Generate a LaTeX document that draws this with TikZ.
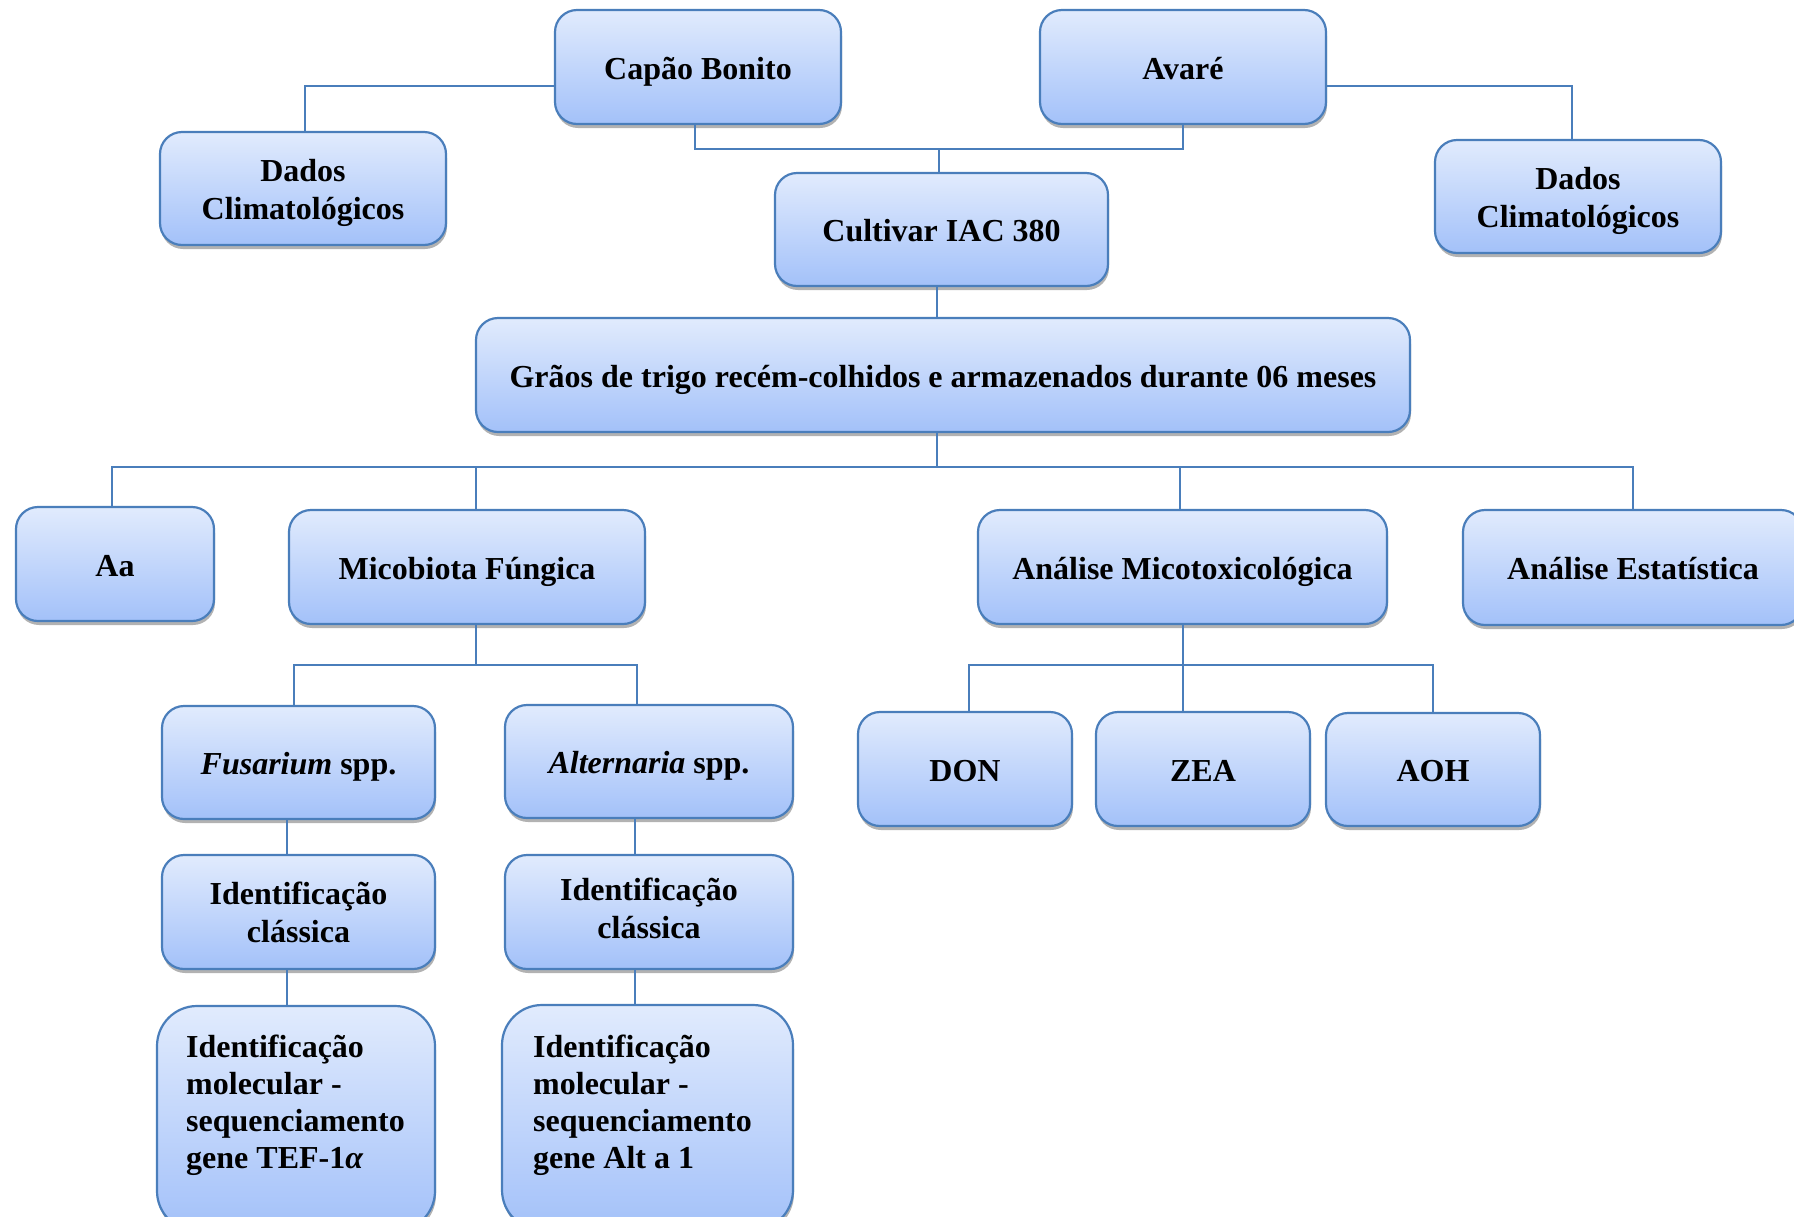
\documentclass[tikz,border=0pt]{standalone}
\usepackage{fontspec}
\setmainfont{Liberation Serif}
\usetikzlibrary{shadows}
\definecolor{bord}{HTML}{4A7EBB}
\definecolor{topc}{HTML}{E1EBFD}
\definecolor{botc}{HTML}{A3C1F9}
\begin{document}
\begin{tikzpicture}[x=1pt,y=-1pt,
  box/.style={draw=bord, line width=2.2pt, rounded corners=22pt, top color=topc, bottom color=botc,
    minimum height=114pt, inner sep=0pt, align=center,
    font=\fontsize{32}{38}\selectfont\bfseries,
    drop shadow={shadow xshift=1pt, shadow yshift=-4pt, opacity=0.3, fill=black}},
  one/.style={text height=30pt, text depth=6pt},
  bigbox/.style={box, rounded corners=40pt},
  molt/.style={font=\fontsize{32}{37}\selectfont\bfseries, align=left, anchor=north west, inner sep=0pt},
  conn/.style={draw=bord, line width=2pt}]
\useasboundingbox (0,0) rectangle (1794,1216);
% boxes
\node[box, one, minimum width=286pt] (capao) at (698,67) {Capão Bonito};
\node[box, one, minimum width=286pt] (avare) at (1183,67) {Avaré};
\node[box, minimum width=286pt, minimum height=113pt] (dadosL) at (303,188.5) {\rule{0pt}{32pt}Dados\\Climatológicos};
\node[box, minimum width=286pt, minimum height=113pt] (dadosR) at (1578,196.5) {\rule{0pt}{32pt}Dados\\Climatológicos};
\node[box, one, minimum width=333pt, minimum height=113pt] (cultivar) at (941.5,229.5) {Cultivar IAC 380};
\node[box, one, minimum width=934pt] (graos) at (943,375) {Grãos de trigo recém-colhidos e armazenados durante 06 meses};
\node[box, one, minimum width=198pt] (aa) at (115,564) {Aa};
\node[box, one, minimum width=356pt] (mico) at (467,567) {Micobiota Fúngica};
\node[box, one, minimum width=409pt] (analise) at (1182.5,567) {Análise Micotoxicológica};
\node[box, one, minimum width=340pt, minimum height=115pt] (estat) at (1633,567.5) {Análise Estatística};
\node[box, one, minimum width=273pt, minimum height=113pt] (fus) at (298.5,762.5) {\textit{Fusarium} spp.};
\node[box, one, minimum width=288pt, minimum height=113pt] (alt) at (649,761.5) {\textit{Alternaria} spp.};
\node[box, minimum width=273pt] (identL) at (298.5,912) {Identificação\\clássica};
\node[box, minimum width=288pt] (identR) at (649,912) {Identificação\\clássica\rule[-7pt]{0pt}{0pt}};
\node[bigbox, minimum width=278pt, minimum height=225pt] (molL) at (296,1118.5) {};
\node[bigbox, minimum width=291pt, minimum height=225pt] (molR) at (647.5,1117.5) {};
\node[molt] (molLt) at (186,1034.5) {Identificação\\molecular -\\sequenciamento\\gene TEF-1\textit{α}};
\node[molt] (molRt) at (533,1034.5) {Identificação\\molecular -\\sequenciamento\\gene Alt a 1};
\node[box, one, minimum width=214pt] (don) at (965,769) {DON};
\node[box, one, minimum width=214pt] (zea) at (1203,769) {ZEA};
\node[box, one, minimum width=214pt, minimum height=113pt] (aoh) at (1433,769.5) {AOH};
% connectors
\coordinate (dl) at ([xshift=2pt]dadosL.north);
\draw[conn] ([yshift=-19pt]capao.west) -| (dl);
\draw[conn] ([yshift=-19pt]avare.east) -| ([xshift=-6pt]dadosR.north);
\coordinate (j1) at (939,149);
\coordinate (cs) at ([xshift=-3pt]capao.south);
\draw[conn] (cs) |- (j1) -| (avare.south);
\draw[conn] (j1) -- (j1 |- cultivar.north);
\coordinate (cb) at ([xshift=-4.5pt]cultivar.south);
\draw[conn] (cb) -- (cb |- graos.north);
\coordinate (j2) at (0,467);
\coordinate (ab) at ([xshift=-3pt]aa.north);
\draw[conn] (ab) -- (ab |- j2) -- (estat.north |- j2) -- (estat.north);
\draw[conn] (cb |- graos.south) -- (cb |- j2);
\coordinate (mt) at ([xshift=9pt]mico.north);
\draw[conn] (mt) -- (mt |- j2);
\coordinate (ant) at ([xshift=-3pt]analise.north);
\draw[conn] (ant) -- (ant |- j2);
\coordinate (j3) at (0,665);
\coordinate (mb) at ([xshift=9pt]mico.south);
\draw[conn] (mb) -- (mb |- j3);
\coordinate (ft) at ([xshift=-4.5pt]fus.north);
\coordinate (at) at ([xshift=-12pt]alt.north);
\draw[conn] (ft) -- (ft |- j3) -- (at |- j3) -- (at);
\coordinate (fb) at ([xshift=-11.5pt]fus.south);
\draw[conn] (fb) -- (fb |- identL.north);
\draw[conn] (fb |- identL.south) -- (fb |- molL.north);
\coordinate (ab2) at ([xshift=-14pt]alt.south);
\draw[conn] (ab2) -- (ab2 |- identR.north);
\draw[conn] (ab2 |- identR.south) -- (ab2 |- molR.north);
\coordinate (anb) at (analise.south);
\draw[conn] (anb) -- (anb |- zea.north);
\coordinate (dt) at ([xshift=4pt]don.north);
\draw[conn] (dt) -- (dt |- j3) -- (aoh.north |- j3) -- (aoh.north);
\end{tikzpicture}
\end{document}
